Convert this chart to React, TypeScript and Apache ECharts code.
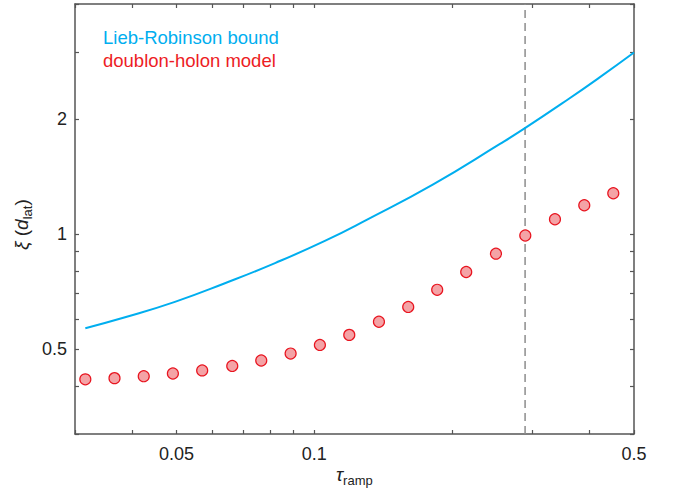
import React, { useEffect, useRef } from "react";
import * as echarts from "echarts";

// ---- data ----
const tauLiebRobinson = [0.0316, 0.0386, 0.0496, 0.0638, 0.0821, 0.1055, 0.1302, 0.182, 0.2547, 0.2888, 0.3564, 0.4213, 0.5];
const xiLiebRobinson = [0.5675, 0.606, 0.665, 0.744, 0.84, 0.96, 1.09, 1.35, 1.722, 1.893, 2.24, 2.575, 2.987];

const tauDoublonHolon = [0.0316, 0.0366, 0.0424, 0.0491, 0.0569, 0.0662, 0.0766, 0.0888, 0.1029, 0.1193, 0.1385, 0.1605, 0.1857, 0.2149, 0.2496, 0.2893, 0.3359, 0.3893, 0.4505];
const xiDoublonHolon = [0.417, 0.420, 0.425, 0.432, 0.440, 0.452, 0.467, 0.487, 0.513, 0.545, 0.590, 0.645, 0.715, 0.796, 0.889, 0.992, 1.094, 1.19, 1.279];

const tauCutoff = 0.289;

const xRange = [0.03, 0.5];
const yRange = [0.3, 4];
const xTickValues = [0.03, 0.04, 0.05, 0.06, 0.07, 0.08, 0.09, 0.1, 0.2, 0.3, 0.4, 0.5];
const xLabelValues = [0.05, 0.1, 0.5];
const yTickValues = [0.3, 0.4, 0.5, 0.6, 0.7, 0.8, 0.9, 1, 2, 3, 4];
const yLabelValues = [0.5, 1, 2];
const seriesNames = ["Lieb-Robinson bound", "doublon-holon model"];

const FONT = '"Liberation Sans", Arial, Helvetica, sans-serif';
const BLUE = "#00aeef";
const RED = "#ed1c24";
const AXIS = "#555555";
const TEXT = "#222222";

const lg = (v: number) => Math.log10(v);
const fmt = (v: number) => {
  const r = Math.round(Math.pow(10, v) * 1000) / 1000;
  return String(r);
};

type Seg = { t: string; size: number; italic?: boolean; sub?: boolean };

function buildRun(segs: Seg[], color: string) {
  const ctx = document.createElement("canvas").getContext("2d") as CanvasRenderingContext2D;
  let x = 0;
  const children: any[] = [];
  for (const s of segs) {
    const font = `${s.italic ? "italic " : ""}${s.size}px ${FONT}`;
    ctx.font = font;
    const w = ctx.measureText(s.t).width;
    const baseline = s.sub ? 4 : 0;
    const cy = baseline - 0.3465 * s.size;
    children.push({
      type: "text",
      x,
      y: cy,
      style: {
        text: s.t,
        fontSize: s.size,
        fontFamily: FONT,
        fontStyle: s.italic ? "italic" : "normal",
        fill: color,
        align: "left",
        textAlign: "left",
        verticalAlign: "middle",
        textVerticalAlign: "middle",
      },
    });
    x += w;
  }
  return children;
}

function axisCommon(position: string, isX: boolean, showLabel: boolean) {
  const range = isX ? xRange : yRange;
  const ticks = isX ? xTickValues : yTickValues;
  const labels = isX ? xLabelValues : yLabelValues;
  return {
    type: "value",
    position,
    min: lg(range[0]),
    max: lg(range[1]),
    axisLine: { show: true, onZero: false, lineStyle: { color: AXIS, width: 1.5 } },
    axisTick: {
      show: true,
      inside: true,
      length: 4,
      customValues: ticks.map(lg),
      lineStyle: { color: AXIS, width: 1.2 },
    },
    axisLabel: {
      show: showLabel,
      customValues: labels.map(lg),
      formatter: (v: number) => fmt(v),
      fontSize: 18,
      fontFamily: FONT,
      color: TEXT,
      margin: isX ? 11 : 8,
    },
    splitLine: { show: false },
    minorTick: { show: false },
  };
}

export default function App() {
  const ref = useRef<HTMLDivElement>(null);

  useEffect(() => {
    document.body.style.margin = "0";
    if (!ref.current) return;
    const chart = echarts.init(ref.current, undefined, { renderer: "svg" });

    const lrData = tauLiebRobinson.map((t, i) => [lg(t), lg(xiLiebRobinson[i])]);
    const dhData = tauDoublonHolon.map((t, i) => [lg(t), lg(xiDoublonHolon[i])]);
    const cutoffData = [
      [lg(tauCutoff), lg(yRange[0])],
      [lg(tauCutoff), lg(yRange[1])],
    ];

    const yTitle = buildRun(
      [
        { t: "ξ", size: 19, italic: true },
        { t: " (", size: 19 },
        { t: "d", size: 19, italic: true },
        { t: "lat", size: 13, sub: true },
        { t: ")", size: 19 },
      ],
      TEXT
    );
    const xTitle = buildRun(
      [
        { t: "τ", size: 19, italic: true },
        { t: "ramp", size: 13, sub: true },
      ],
      TEXT
    );

    chart.setOption({
      animation: false,
      backgroundColor: "#ffffff",
      grid: { left: 75, right: 44, top: 4, bottom: 62, containLabel: false, outerBoundsMode: "none" },
      xAxis: [axisCommon("bottom", true, true), axisCommon("top", true, false)],
      yAxis: [axisCommon("left", false, true), axisCommon("right", false, false)],
      series: [
        {
          name: "cutoff",
          type: "line",
          data: cutoffData,
          showSymbol: false,
          symbol: "none",
          silent: true,
          lineStyle: { color: "#8c8c8c", width: 1.5, type: [8, 5] },
          z: 1,
        },
        {
          name: seriesNames[0],
          type: "line",
          data: lrData,
          smooth: 0.5,
          showSymbol: false,
          symbol: "none",
          lineStyle: { color: BLUE, width: 2 },
          z: 2,
        },
        {
          name: seriesNames[1],
          type: "scatter",
          data: dhData,
          symbol: "circle",
          symbolSize: 11,
          itemStyle: { color: "#f4a3a6", borderColor: "#e8141f", borderWidth: 1.2, opacity: 1 },
          z: 3,
        },
      ],
      graphic: [
        {
          type: "text",
          x: 103,
          y: 37.8,
          style: {
            text: seriesNames[0],
            fontSize: 18.5,
            fontFamily: FONT,
            fill: BLUE,
            align: "left",
            textAlign: "left",
            verticalAlign: "middle",
            textVerticalAlign: "middle",
          },
        },
        {
          type: "text",
          x: 103,
          y: 60.5,
          style: {
            text: seriesNames[1],
            fontSize: 18.5,
            fontFamily: FONT,
            fill: RED,
            align: "left",
            textAlign: "left",
            verticalAlign: "middle",
            textVerticalAlign: "middle",
          },
        },
        {
          type: "group",
          x: 336,
          y: 481,
          children: xTitle,
        },
        {
          type: "group",
          x: 28,
          y: 250,
          rotation: Math.PI / 2,
          children: yTitle,
        },
      ],
    });

    return () => chart.dispose();
  }, []);

  return <div ref={ref} style={{ width: 678, height: 496 }} />;
}
